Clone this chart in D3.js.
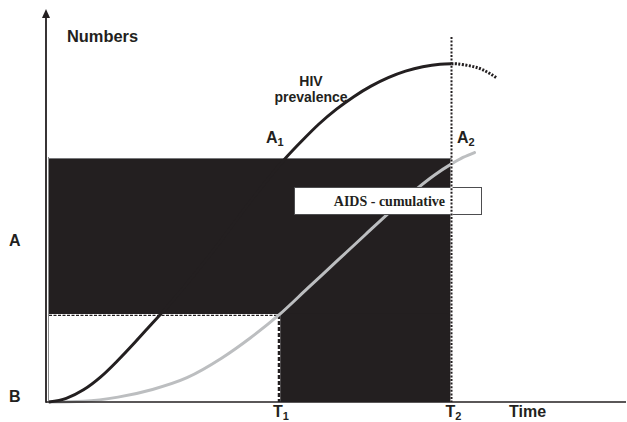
<!DOCTYPE html>
<html>
<head>
<meta charset="utf-8">
<script src="https://cdn.jsdelivr.net/npm/d3@7"></script>
<style>
  html, body { margin: 0; padding: 0; background: #fff; }
  svg { display: block; }
  .lbl { font-family: "Liberation Sans", Arial, sans-serif; font-weight: bold; fill: #231f20; }
</style>
</head>
<body>
<svg id="chart" width="627" height="422"></svg>
<script>
// ---- data (time units 0..100, numbers units 0..100) ----
const timeMarks = [40, 70];            // T1, T2
const timeLabels = ["T", "T"];
const timeSubs = ["1", "2"];
const levelA = 60;                     // A level
const levelB = 21.5;                   // lower level (AIDS cumulative at T1)
const hivTime  = [0, 3, 6, 9, 12, 15, 18, 20, 25, 30, 35, 41, 44, 47, 50, 53, 56, 59, 62, 65, 68, 70];
const hivValue = [0, 0.9, 3.0, 6.2, 10.3, 14.8, 19.5, 22.6, 31.0, 40.0, 49.5, 60.0, 64.5, 68.7, 72.3, 75.4, 78.0, 80.1, 81.7, 82.8, 83.4, 83.5];
const hivProjTime  = [70, 71.0, 73.2, 75.5, 77.9];
const hivProjValue = [83.5, 83.5, 83.0, 82.0, 80.0];
const aidsTime  = [0, 6, 12, 18, 24, 30, 35, 40, 45, 50, 55, 60, 64, 67, 70, 72, 74];
const aidsValue = [0, 0.2, 1.2, 3.1, 6.0, 10.8, 15.8, 21.5, 28.1, 34.7, 41.3, 47.8, 52.7, 56.0, 58.8, 60.4, 61.6];
const yLabels = ["A", "B"];
const yLabelValues = [40, 0];

const svg = d3.select("#chart");
const W = 627, H = 422;
svg.append("rect").attr("width", W).attr("height", H).attr("fill", "#fff");

const x = d3.scaleLinear().domain([0, 100]).range([49, 624]);
const y = d3.scaleLinear().domain([0, 100]).range([402, -3]);

const BLACK = "#231f20", GRAY = "#bcbec0";

// grey left border of the boxes
svg.append("line").attr("x1", x(0) - 0.5).attr("x2", x(0) - 0.5)
  .attr("y1", y(levelA) - 2).attr("y2", y(0))
  .attr("stroke", "#8a8a8a").attr("stroke-width", 1);

// upper black rectangle (0..T2, B..A)
svg.append("rect")
  .attr("x", x(0)).attr("y", y(levelA))
  .attr("width", x(timeMarks[1]) - x(0)).attr("height", y(levelB) - y(levelA))
  .attr("fill", BLACK);
svg.append("line").attr("x1", x(0)).attr("x2", x(timeMarks[1]))
  .attr("y1", y(levelA) - 0.5).attr("y2", y(levelA) - 0.5)
  .attr("stroke", "#77787b").attr("stroke-width", 1);
// lower black rectangle (T1..T2, 0..B)
svg.append("rect")
  .attr("x", x(timeMarks[0])).attr("y", y(levelB) - 1)
  .attr("width", x(timeMarks[1]) - x(timeMarks[0])).attr("height", y(0) - y(levelB) + 1)
  .attr("fill", BLACK);

// dashed horizontal at B level
svg.append("line").attr("x1", x(0)).attr("x2", x(timeMarks[0]))
  .attr("y1", y(levelB)).attr("y2", y(levelB))
  .attr("stroke", "#fff").attr("stroke-width", 2);
svg.append("line").attr("x1", x(0)).attr("x2", x(timeMarks[0]))
  .attr("y1", y(levelB) + 0.5).attr("y2", y(levelB) + 0.5)
  .attr("stroke", BLACK).attr("stroke-width", 1.3).attr("stroke-dasharray", "3,1.5");
// dashed vertical at T1
svg.append("line").attr("x1", x(timeMarks[0])).attr("x2", x(timeMarks[0]))
  .attr("y1", y(levelB)).attr("y2", y(0))
  .attr("stroke", "#fff").attr("stroke-width", 2.5);
svg.append("line").attr("x1", x(timeMarks[0])).attr("x2", x(timeMarks[0]))
  .attr("y1", y(levelB)).attr("y2", y(0))
  .attr("stroke", BLACK).attr("stroke-width", 2.5).attr("stroke-dasharray", "4,2");

// curves
const line = d3.line().x(d => x(d[0])).y(d => y(d[1])).curve(d3.curveMonotoneX);
svg.append("path").datum(aidsTime.map((t, i) => [t, aidsValue[i]]))
  .attr("d", line).attr("fill", "none").attr("stroke", GRAY).attr("stroke-width", 3)
  .attr("stroke-linecap", "round");
svg.append("path").datum(hivTime.map((t, i) => [t, hivValue[i]]))
  .attr("d", line).attr("fill", "none").attr("stroke", BLACK).attr("stroke-width", 3);
svg.append("path").datum(hivProjTime.map((t, i) => [t, hivProjValue[i]]))
  .attr("d", d3.line().x(d => x(d[0])).y(d => y(d[1])).curve(d3.curveNatural))
  .attr("fill", "none").attr("stroke", BLACK).attr("stroke-width", 3)
  .attr("stroke-dasharray", "2,1.5");

// label box
svg.append("rect").attr("x", 294.5).attr("y", 187.5).attr("width", 187).attr("height", 27)
  .attr("fill", "#fff").attr("stroke", "#4d4d4f").attr("stroke-width", 1);
svg.append("text").attr("x", 445).attr("y", 206).attr("text-anchor", "end")
  .attr("font-family", "'Liberation Serif', 'Times New Roman', serif").attr("font-weight", "bold")
  .attr("font-size", 14).attr("fill", BLACK).text("AIDS - cumulative");

// dotted vertical at T2
svg.append("line").attr("x1", x(timeMarks[1])).attr("x2", x(timeMarks[1]))
  .attr("y1", y(levelA)).attr("y2", y(0))
  .attr("stroke", "#fff").attr("stroke-width", 2.2);
svg.append("line").attr("x1", x(timeMarks[1])).attr("x2", x(timeMarks[1]))
  .attr("y1", 37).attr("y2", y(0))
  .attr("stroke", BLACK).attr("stroke-width", 2).attr("stroke-dasharray", "2,1.6");

// axes
const xAxis = d3.axisBottom(x).tickValues(timeMarks).tickSize(0).tickFormat("");
const gx = svg.append("g").attr("transform", `translate(0,${y(0)})`).call(xAxis);
gx.select(".domain").attr("d", `M${x(0) - 3},0H${x(100) + 2}`).attr("stroke", BLACK).attr("stroke-width", 1.6);
const yAxis = d3.axisLeft(y).tickValues(yLabelValues).tickSize(0).tickFormat("");
const gy = svg.append("g").attr("transform", `translate(${x(0) - 3},0)`).call(yAxis);
gy.select(".domain").attr("d", `M0,${y(0) + 0.8}V${15}`).attr("stroke", BLACK).attr("stroke-width", 1.8);
svg.append("path").attr("d", `M${x(0) - 3},9 L${x(0) - 7},18 L${x(0) + 1},18 Z`).attr("fill", BLACK);

// tick labels T1, T2
timeMarks.forEach((t, i) => {
  const tx = svg.append("text").attr("class", "lbl").attr("x", x(t) - 6).attr("y", 417).attr("font-size", 16);
  tx.append("tspan").text(timeLabels[i]);
  tx.append("tspan").attr("font-size", 11).attr("dy", 3).text(timeSubs[i]);
});
svg.append("text").attr("class", "lbl").attr("x", 509).attr("y", 417).attr("font-size", 16).text("Time");

// y labels A, B
yLabels.forEach((l, i) => {
  svg.append("text").attr("class", "lbl").attr("x", 9)
    .attr("y", i === 0 ? 246 : 402).attr("font-size", 16).text(l);
});

svg.append("text").attr("class", "lbl").attr("x", 67).attr("y", 42).attr("font-size", 16.4).text("Numbers");

// HIV prevalence label
svg.append("text").attr("class", "lbl").attr("x", 311).attr("y", 86).attr("text-anchor", "middle").attr("font-size", 14).text("HIV");
svg.append("text").attr("class", "lbl").attr("x", 311).attr("y", 102).attr("text-anchor", "middle").attr("font-size", 14).text("prevalence");

// A1, A2
[["1", 266], ["2", 457]].forEach(([s, px]) => {
  const t = svg.append("text").attr("class", "lbl").attr("x", px).attr("y", 143).attr("font-size", 16);
  t.append("tspan").text("A");
  t.append("tspan").attr("font-size", 11).attr("dy", 3).text(s);
});
</script>
</body>
</html>
